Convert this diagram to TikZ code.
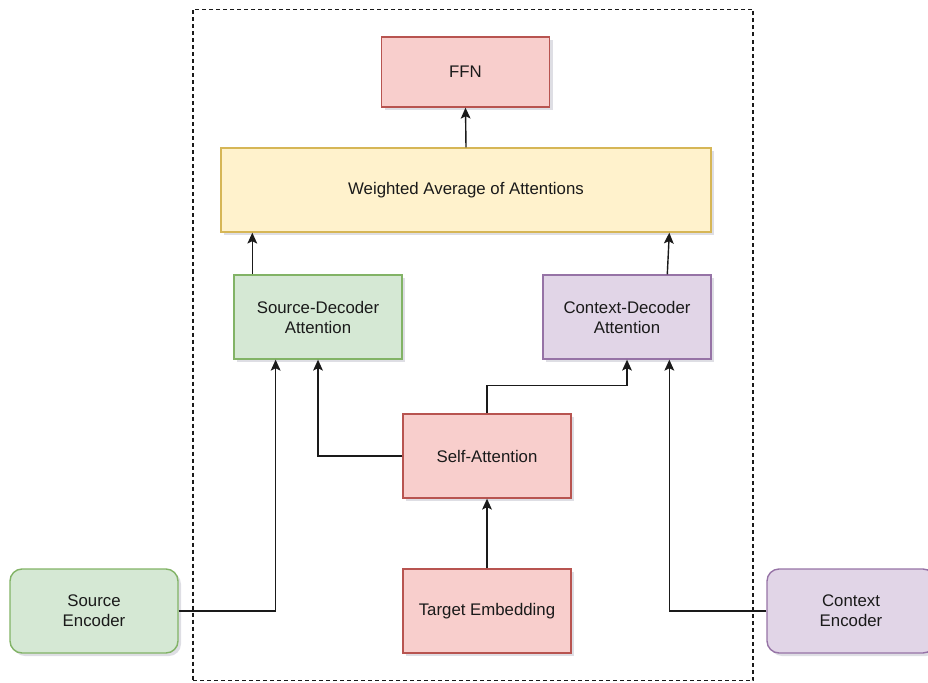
\documentclass[tikz,border=0pt]{standalone}
\usepackage{fontspec}
\setmainfont{Liberation Sans}
\usetikzlibrary{arrows.meta,shadows,calc}
\definecolor{redfill}{HTML}{F8CECC}\definecolor{redline}{HTML}{B85450}
\definecolor{greenfill}{HTML}{D5E8D4}\definecolor{greenline}{HTML}{82B366}
\definecolor{purplefill}{HTML}{E1D5E7}\definecolor{purpleline}{HTML}{9673A6}
\definecolor{yellowfill}{HTML}{FFF2CC}\definecolor{yellowline}{HTML}{D6B656}
\definecolor{ink}{HTML}{1A1A1A}
\definecolor{shade}{HTML}{5A5A78}
\tikzset{
  boxbase/.style={draw, line width=1.4pt, minimum width=168pt, minimum height=84pt,
    inner sep=2pt, align=center, text=ink,
    font=\fontsize{16.8}{20}\selectfont,
    drop shadow={fill=shade, opacity=0.2, shadow xshift=3pt, shadow yshift=-3pt}},
  redbox/.style={boxbase, fill=redfill, draw=redline},
  greenbox/.style={boxbase, fill=greenfill, draw=greenline},
  purplebox/.style={boxbase, fill=purplefill, draw=purpleline},
  yellowbox/.style={boxbase, fill=yellowfill, draw=yellowline},
  arr/.style={draw=ink, line width=1.4pt, -{Stealth[length=11pt,width=10pt,inset=2.5pt,line width=0pt]}},
  frame/.style={draw=ink, line width=1.2pt, dash pattern=on 4pt off 3pt}
}
\begin{document}
\begin{tikzpicture}[x=1pt,y=-1pt]
\useasboundingbox (0,0) rectangle (928,682);
\node[frame, minimum width=560pt, minimum height=671pt, inner sep=0pt] (frm) at (473,345) {};
\node[redbox, minimum height=70pt] (ffn) at (465.5,72) {FFN};
\node[yellowbox, minimum width=490pt] (wavg) at (466,190) {Weighted Average of Attentions};
\node[greenbox] (srcdec) at (318,317) {Source-Decoder\\Attention};
\node[purplebox] (ctxdec) at (627,317) {Context-Decoder\\Attention};
\node[redbox] (selfatt) at (487,456) {Self-Attention};
\node[redbox] (tgtemb) at (487,611) {Target Embedding};
\node[greenbox, rounded corners=12pt] (srcenc) at (94,611) {Source\\Encoder};
\node[purplebox, rounded corners=12pt] (ctxenc) at (851,611) {Context\\Encoder};
% connectors
\coordinate (sdleft) at ($(srcdec.south west)!0.25!(srcdec.south east)$);
\coordinate (cdright) at ($(ctxdec.south west)!0.75!(ctxdec.south east)$);
\coordinate (sdtop) at ($(srcdec.north west)+(19,0)$);
\coordinate (cdtop) at ($(ctxdec.north west)+(125,0)$);
\draw[arr] (srcenc.east) -| (sdleft);
\draw[arr] (selfatt.west) -| (srcdec.south);
\draw[arr] (selfatt.north) |- ++(0,-28) -| (ctxdec.south);
\draw[arr] (ctxenc.west) -| (cdright);
\draw[arr] (tgtemb.north) -- (selfatt.south);
\draw[arr] (sdtop) -- (sdtop |- wavg.south);
\draw[arr] (cdtop) -- ($(cdtop |- wavg.south)+(2,0)$);
\draw[arr] (wavg.north) -- (ffn.south);
\end{tikzpicture}
\end{document}
